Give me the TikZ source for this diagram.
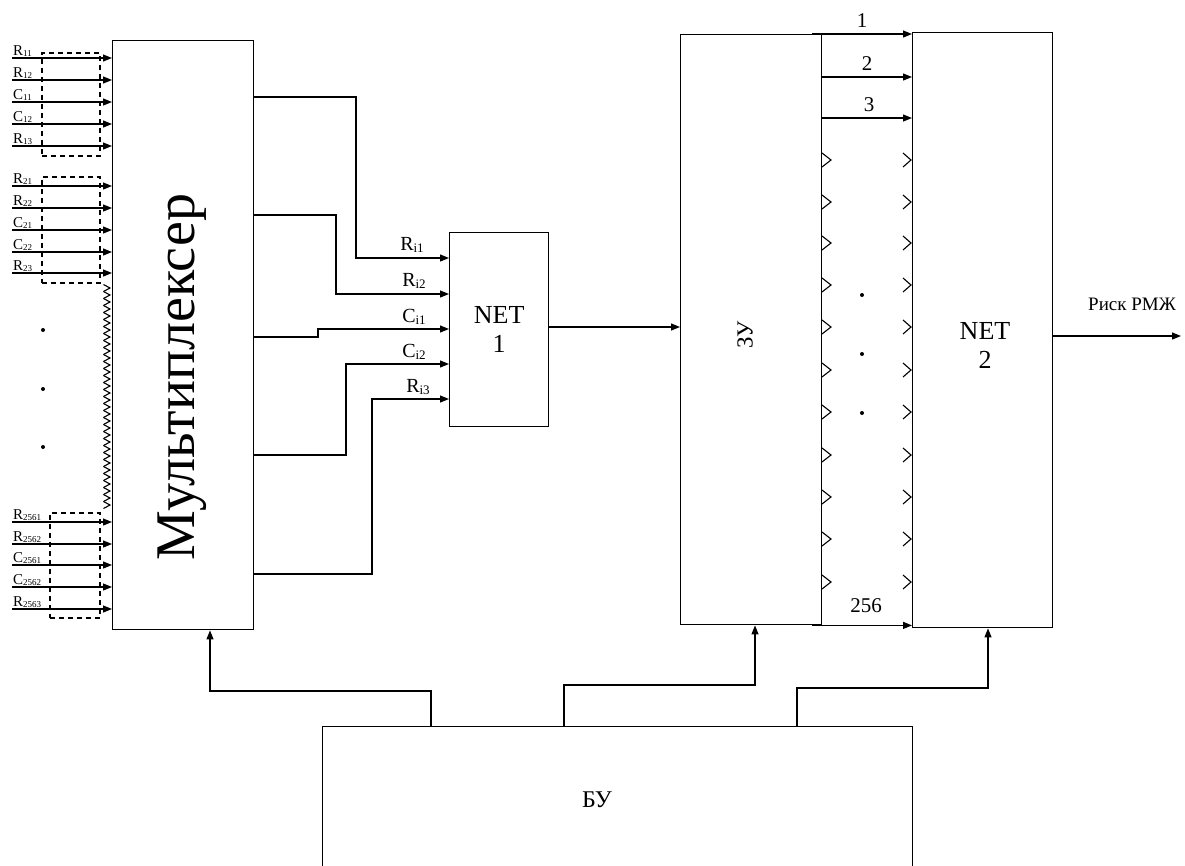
\documentclass[tikz,border=0pt]{standalone}
\usepackage{fontspec}
\setmainfont{Liberation Serif}
\usetikzlibrary{arrows.meta}
\tikzset{
  blk/.style={draw, line width=1.4pt},
  wire/.style={line width=1.2pt},
  arr/.style={wire, -{Triangle[length=9pt,width=7pt]}},
  grp/.style={draw, line width=1.6pt, dash pattern=on 5pt off 4pt},
  chev/.style={line width=1.1pt},
  inlbl/.style={font=\fontsize{15}{15}\selectfont, anchor=base west, inner sep=0pt},
  siglbl/.style={font=\fontsize{20}{20}\selectfont, anchor=base, inner sep=0pt},
  numlbl/.style={font=\fontsize{21}{21}\selectfont, anchor=base, inner sep=0pt},
}
\newcommand{\lbsub}[2]{#1\raisebox{-1.5pt}{\fontsize{9}{9}\selectfont #2}}
\newcommand{\sgsub}[2]{#1\raisebox{-2pt}{\fontsize{13}{13}\selectfont #2}}
\begin{document}
\begin{tikzpicture}[x=1pt,y=-1pt]
\useasboundingbox (0,0) rectangle (1185,865);
\fill[white] (0,0) rectangle (1185,865);
% ---------- blocks ----------
\node[blk, minimum width=141pt, minimum height=589pt, anchor=north west, inner sep=0pt] (mux) at (112,40) {};
\node[rotate=90, font=\fontsize{56}{56}\selectfont, inner sep=0pt] (muxt) at (182,377) {Мультиплексер};
\node[blk, minimum width=99pt, minimum height=194pt, anchor=north west, inner sep=0pt, align=center, font=\fontsize{26}{29}\selectfont] (net1) at (449,232) {NET\\1};
\node[blk, minimum width=141pt, minimum height=590pt, anchor=north west, inner sep=0pt] (zu) at (680,34) {};
\node[rotate=90, font=\fontsize{23}{23}\selectfont, inner sep=0pt] (zut) at (745,335) {ЗУ};
\node[blk, minimum width=140pt, minimum height=595pt, anchor=north west, inner sep=0pt] (net2) at (912,32) {};
\node[align=center, font=\fontsize{26}{29}\selectfont, inner sep=0pt] (net2t) at (985,345) {NET\\2};
\node[blk, minimum width=590pt, minimum height=150pt, anchor=north west, inner sep=0pt] (bu) at (322,726) {};
\node[font=\fontsize{24}{24}\selectfont, inner sep=0pt] (but) at (597,800) {БУ};
% ---------- input groups ----------
% group 1
\foreach \y/\a/\b [count=\i] in {58/R/11,80/R/12,102/C/11,124/C/12,146/R/13}{
  \coordinate (g1s\i) at (12,\y);
  \coordinate (g1e\i) at (mux.west |- 0,\y);
  \draw[arr] (g1s\i) -- (g1e\i);
  \node[inlbl] (g1l\i) at (13,\y-3) {\lbsub{\a}{\b}};
}
\node[grp, minimum width=58pt, minimum height=103pt, anchor=north west, inner sep=0pt] (grp1) at (41,52) {};
% group 2
\foreach \y/\a/\b [count=\i] in {186/R/21,208/R/22,230/C/21,252/C/22,273/R/23}{
  \coordinate (g2s\i) at (12,\y);
  \coordinate (g2e\i) at (mux.west |- 0,\y);
  \draw[arr] (g2s\i) -- (g2e\i);
  \node[inlbl] (g2l\i) at (13,\y-3) {\lbsub{\a}{\b}};
}
\node[grp, minimum width=58pt, minimum height=106pt, anchor=north west, inner sep=0pt] (grp2) at (41,176) {};
% group 3
\foreach \y/\a/\b [count=\i] in {522/R/{2561},544/R/{2562},565/C/{2561},587/C/{2562},609/R/{2563}}{
  \coordinate (g3s\i) at (12,\y);
  \coordinate (g3e\i) at (mux.west |- 0,\y);
  \draw[arr] (g3s\i) -- (g3e\i);
  \node[inlbl] (g3l\i) at (13,\y-3) {\lbsub{\a}{\b}};
}
\node[grp, minimum width=50pt, minimum height=105pt, anchor=north west, inner sep=0pt] (grp3) at (49,512) {};
% chevrons along multiplexer input
\foreach \y in {288,295,...,508}{
  \draw[chev] (103.5,\y-3.5) -- (110,\y) -- (103.5,\y+3.5);
}
% dots
\foreach \y [count=\i] in {330,389,447}{
  \fill (43,\y) circle (2pt) coordinate (ld\i);
}
% ---------- multiplexer -> NET1 ----------
\coordinate (m1) at (mux.east |- 0,97);
\coordinate (m2) at (mux.east |- 0,215);
\coordinate (m3) at (mux.east |- 0,337);
\coordinate (m4) at (mux.east |- 0,455);
\coordinate (m5) at (mux.east |- 0,574);
\draw[arr] (m1) -- (356,97) -- (356,258) -- (net1.west |- 0,258);
\draw[arr] (m2) -- (336,215) -- (336,294) -- (net1.west |- 0,294);
\draw[arr] (m3) -- (318,337) -- (318,329) -- (net1.west |- 0,329);
\draw[arr] (m4) -- (346,455) -- (346,364) -- (net1.west |- 0,364);
\draw[arr] (m5) -- (372,574) -- (372,399) -- (net1.west |- 0,399);
\node[siglbl] (l1) at (412,250) {\sgsub{R}{i1}};
\node[siglbl] (l2) at (414,286) {\sgsub{R}{i2}};
\node[siglbl] (l3) at (414,322) {\sgsub{C}{i1}};
\node[siglbl] (l4) at (414,357) {\sgsub{C}{i2}};
\node[siglbl] (l5) at (418,392) {\sgsub{R}{i3}};
% NET1 -> ZU
\draw[arr] (net1.east |- 0,327) -- (zu.west |- 0,327);
% ---------- ZU -> NET2 ----------
\draw[arr] (zu.north east) ++(-10,0) coordinate (z1) -- (net2.west |- z1);
\draw[arr] (zu.east |- 0,77) -- (net2.west |- 0,77);
\draw[arr] (zu.east |- 0,118) -- (net2.west |- 0,118);
\draw[arr] (zu.south east) ++(-10,0) coordinate (z256) -- (net2.west |- z256);
\node[numlbl] (n1) at (862,27) {1};
\node[numlbl] (n2) at (867,70) {2};
\node[numlbl] (n3) at (869,111) {3};
\node[numlbl] (n256) at (866,612) {256};
\foreach \y in {160,202,243,285,327,370,412,455,497,539,582}{
  \draw[chev] (822,\y-7) -- (831,\y) -- (822,\y+7);
  \draw[chev] (903,\y-7) -- (911,\y) -- (903,\y+7);
}
\foreach \y [count=\i] in {295,354,413}{
  \fill (862,\y) circle (2pt) coordinate (rd\i);
}
% NET2 output
\coordinate (out) at (1181,336);
\draw[arr] (net2.east |- out) -- (out);
\node[font=\fontsize{19}{19}\selectfont, anchor=base west, inner sep=0pt] (risk) at (1088,310) {Риск РМЖ};
% ---------- BU -> blocks ----------
\draw[arr] (bu.north -| 431,0) -- (431,691) -- (210,691) -- (mux.south -| 210,0);
\draw[arr] (bu.north -| 564,0) -- (564,685) -- (755,685) -- (zu.south -| 755,0);
\draw[arr] (bu.north -| 797,0) -- (797,688) -- (988,688) -- (net2.south -| 988,0);
\end{tikzpicture}
\end{document}
